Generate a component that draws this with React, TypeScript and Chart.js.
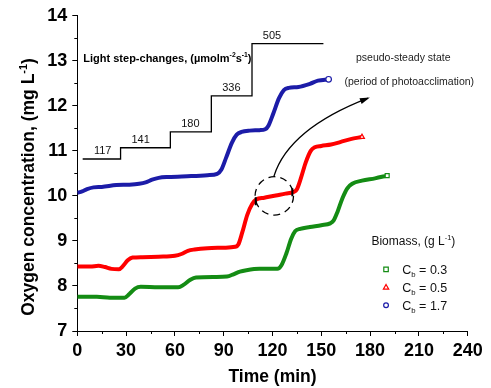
import React, { useEffect, useRef } from 'react';
import { Chart, registerables } from 'chart.js';

Chart.register(...registerables);

const FONT = '"Liberation Sans", Arial, Helvetica, sans-serif';

// ---- data (time in min, O2 in mg/L) ----
const blueTime = [0, 3, 6, 10, 15, 24, 32, 38, 42, 46, 50, 56, 70, 80, 86, 88.5, 91.5, 95, 98, 101, 106, 112, 115.5, 117.5, 120.5, 124, 127, 130, 136, 143, 148, 154.5];
const blueO2 = [10.07, 10.1, 10.15, 10.19, 10.2, 10.24, 10.25, 10.27, 10.3, 10.36, 10.4, 10.42, 10.44, 10.46, 10.49, 10.58, 10.85, 11.18, 11.36, 11.42, 11.45, 11.46, 11.48, 11.56, 11.83, 12.17, 12.35, 12.4, 12.42, 12.49, 12.56, 12.59];

const redTime = [0, 8, 13, 17, 21, 25.5, 28, 31, 34, 40, 50, 60, 64, 68, 72, 80, 90, 97, 99, 101.5, 104.5, 107.5, 110, 115, 122, 128, 133, 135, 137.5, 140.5, 143.5, 146, 150, 156, 162, 168, 175];
const redO2 = [8.43, 8.43, 8.45, 8.42, 8.38, 8.37, 8.44, 8.57, 8.63, 8.64, 8.65, 8.67, 8.71, 8.78, 8.81, 8.84, 8.85, 8.87, 8.92, 9.2, 9.58, 9.82, 9.92, 9.96, 10.01, 10.05, 10.09, 10.15, 10.4, 10.75, 11.0, 11.08, 11.11, 11.14, 11.2, 11.26, 11.31];

const greenTime = [0, 12, 20, 29, 32, 35.5, 39, 50, 62, 65.5, 69.5, 73, 85, 92, 96, 100, 104, 112, 123, 125.5, 128.5, 131.5, 134, 137, 143, 150, 155.5, 157.5, 160, 163, 166, 169, 175, 183, 190.5];
const greenO2 = [7.76, 7.76, 7.74, 7.74, 7.82, 7.94, 7.98, 7.97, 7.97, 8.03, 8.14, 8.19, 8.2, 8.21, 8.26, 8.32, 8.35, 8.38, 8.38, 8.46, 8.72, 9.05, 9.22, 9.27, 9.31, 9.35, 9.39, 9.45, 9.65, 9.95, 10.17, 10.27, 10.34, 10.39, 10.45];

const lightTime = [3.3, 26.6, 57.2, 82.4, 107.4, 151.3];
const lightLevel = [10.82, 11.07, 11.42, 12.22, 13.38, 13.38];
const lightLabels = ['117', '141', '180', '336', '505'];

const biomassLabels = ['0.3', '0.5', '1.7'];
const seriesColors = ['#148c14', '#ff0000', '#1c1ca8'];
const seriesMarkers = ['rect', 'triangle', 'circle'];

const xMin = 0, xMax = 240, xStep = 30;
const yMin = 7, yMax = 14, yStep = 1;

type Part = { t: string; sup?: boolean; sub?: boolean };

function drawRich(ctx: CanvasRenderingContext2D, parts: Part[], x: number, y: number, size: number, weight: string, align: 'left' | 'center' | 'right', color: string) {
  const fontFor = (p: Part) => `${weight} ${p.sup || p.sub ? size * 0.62 : size}px ${FONT}`;
  let w = 0;
  for (const p of parts) { ctx.font = fontFor(p); w += ctx.measureText(p.t).width; }
  let cx = align === 'center' ? x - w / 2 : align === 'right' ? x - w : x;
  ctx.textAlign = 'left';
  ctx.textBaseline = 'alphabetic';
  ctx.fillStyle = color;
  for (const p of parts) {
    ctx.font = fontFor(p);
    const dy = p.sup ? -size * 0.4 : p.sub ? size * 0.25 : 0;
    ctx.fillText(p.t, cx, y + dy);
    cx += ctx.measureText(p.t).width;
  }
}

function drawMarker(ctx: CanvasRenderingContext2D, style: string, x: number, y: number, r: number, color: string) {
  ctx.save();
  ctx.strokeStyle = color;
  ctx.fillStyle = '#fff';
  ctx.lineWidth = 1.2;
  ctx.beginPath();
  if (style === 'rect') {
    ctx.rect(x - r * 0.8, y - r * 0.8, r * 1.6, r * 1.6);
  } else if (style === 'triangle') {
    ctx.moveTo(x, y - r);
    ctx.lineTo(x + r * 0.95, y + r * 0.65);
    ctx.lineTo(x - r * 0.95, y + r * 0.65);
    ctx.closePath();
  } else {
    ctx.arc(x, y, r * 0.85, 0, Math.PI * 2);
  }
  ctx.fill();
  ctx.stroke();
  ctx.restore();
}

const overlayPlugin = {
  id: 'overlay',
  afterDraw(chart: any) {
    const ctx: CanvasRenderingContext2D = chart.ctx;
    const xs = chart.scales.x;
    const ys = chart.scales.y;
    const px = (t: number) => xs.getPixelForValue(t);
    const py = (v: number) => ys.getPixelForValue(v);
    const area = chart.chartArea;
    ctx.save();

    // minor ticks
    ctx.strokeStyle = '#000';
    ctx.lineWidth = 1;
    ctx.beginPath();
    for (let t = xMin + xStep / 2; t < xMax; t += xStep) {
      const x = Math.round(px(t)) + 0.5;
      ctx.moveTo(x, area.bottom);
      ctx.lineTo(x, area.bottom + 3);
    }
    for (let v = yMin + yStep / 2; v < yMax; v += yStep) {
      const y = Math.round(py(v)) + 0.5;
      ctx.moveTo(area.left, y);
      ctx.lineTo(area.left - 3, y);
    }
    ctx.stroke();

    // axis titles
    drawRich(ctx, [{ t: 'Time (min)' }], (area.left + area.right) / 2, 382, 17.5, 'bold', 'center', '#000');
    ctx.save();
    ctx.translate(27.5, 187);
    ctx.rotate(-Math.PI / 2);
    drawRich(ctx, [{ t: 'Oxygen concentration, (mg L' }, { t: '-1', sup: true }, { t: ')' }], 0, 6.5, 17.5, 'bold', 'center', '#000');
    ctx.restore();

    // light step labels
    for (let i = 0; i < lightLabels.length; i++) {
      drawRich(ctx, [{ t: lightLabels[i] }], px(lightTime[i]) + 20, py(lightLevel[i]) - 4.5, 11, 'normal', 'center', '#111');
    }
    drawRich(ctx, [{ t: 'Light step-changes, (µmolm' }, { t: '-2', sup: true }, { t: 's' }, { t: '-1', sup: true }, { t: ')' }], px(3.7), py(13.07) + 4, 11, 'bold', 'left', '#000');

    // pseudo-steady state text
    drawRich(ctx, [{ t: 'pseudo-steady state' }], px(200.4), py(13.09) + 3.8, 10.5, 'normal', 'center', '#222');
    drawRich(ctx, [{ t: '(period of photoacclimation)' }], px(204.1), py(12.55) + 3.8, 10.5, 'normal', 'center', '#222');

    // curved arrow
    const p0 = { x: px(120.9), y: py(10.44) };
    const c = { x: px(130.1), y: py(11.49) };
    const p2 = { x: px(178.7), y: py(12.17) };
    ctx.strokeStyle = '#000';
    ctx.lineWidth = 1.3;
    ctx.beginPath();
    ctx.moveTo(p0.x, p0.y);
    ctx.quadraticCurveTo(c.x, c.y, p2.x, p2.y);
    ctx.stroke();
    const ang = Math.atan2(p2.y - c.y, p2.x - c.x);
    const hl = 8, hw = 3;
    ctx.fillStyle = '#000';
    ctx.beginPath();
    ctx.moveTo(p2.x + Math.cos(ang) * 2, p2.y + Math.sin(ang) * 2);
    ctx.lineTo(p2.x - Math.cos(ang) * hl + Math.sin(ang) * hw, p2.y - Math.sin(ang) * hl - Math.cos(ang) * hw);
    ctx.lineTo(p2.x - Math.cos(ang) * hl - Math.sin(ang) * hw, p2.y - Math.sin(ang) * hl + Math.cos(ang) * hw);
    ctx.closePath();
    ctx.fill();

    // dashed circle
    const cc = { x: px(121.1), y: py(10.0) };
    ctx.setLineDash([7, 5]);
    ctx.lineWidth = 1.3;
    ctx.beginPath();
    ctx.arc(cc.x, cc.y, 19.2, 0, Math.PI * 2);
    ctx.stroke();
    ctx.setLineDash([]);
    ctx.lineWidth = 2;
    ctx.beginPath();
    ctx.moveTo(px(109.7), py(9.88) - 4);
    ctx.lineTo(px(109.7), py(9.88) + 4);
    ctx.moveTo(px(132.2), py(10.08) - 4);
    ctx.lineTo(px(132.2), py(10.08) + 4);
    ctx.stroke();

    // legend
    drawRich(ctx, [{ t: 'Biomass, (g L' }, { t: '-1', sup: true }, { t: ')' }], px(206.6), py(9.0) + 4.3, 12, 'normal', 'center', '#111');
    const legendY = [8.37, 7.97, 7.57];
    for (let i = 0; i < biomassLabels.length; i++) {
      const y = py(legendY[i]);
      drawMarker(ctx, seriesMarkers[i], px(189.8), y, 2.8, seriesColors[i]);
      drawRich(ctx, [{ t: 'C' }, { t: 'b', sub: true }, { t: ' = ' + biomassLabels[i] }], px(199.8), y + 4.5, 12.5, 'normal', 'left', '#111');
    }

    ctx.restore();
  },
};

function series(time: number[], vals: number[]) {
  return time.map((t, i) => ({ x: t, y: vals[i] }));
}

export default function App() {
  const ref = useRef<HTMLCanvasElement | null>(null);
  useEffect(() => {
    if (!ref.current) return;
    const mk = (i: number, time: number[], vals: number[]) => ({
      label: 'Cb = ' + biomassLabels[i],
      data: series(time, vals),
      borderColor: seriesColors[i],
      backgroundColor: '#fff',
      borderWidth: 4,
      cubicInterpolationMode: 'monotone' as const,
      pointStyle: seriesMarkers[i],
      pointRadius: (c: any) => (c.dataIndex === vals.length - 1 ? 2.8 : 0),
      pointBorderColor: seriesColors[i],
      pointBackgroundColor: '#fff',
      pointBorderWidth: 1.2,
      fill: false,
    });
    const chart = new Chart(ref.current, {
      type: 'line',
      data: {
        datasets: [
          {
            label: 'Light',
            data: series(lightTime, lightLevel),
            borderColor: '#000',
            borderWidth: 1.3,
            stepped: 'before',
            pointRadius: 0,
            fill: false,
          },
          mk(0, greenTime, greenO2),
          mk(1, redTime, redO2),
          mk(2, blueTime, blueO2),
        ],
      },
      options: {
        animation: false,
        responsive: false,
        maintainAspectRatio: false,
        layout: { padding: { top: 15.7, right: 23.3, left: 0, bottom: 0 } },
        plugins: { legend: { display: false }, tooltip: { enabled: false }, title: { display: false } },
        scales: {
          x: {
            type: 'linear',
            min: xMin,
            max: xMax,
            afterFit: (s: any) => { s.height = 57; },
            ticks: { stepSize: xStep, color: '#000', font: { family: FONT, size: 18, weight: 'bold' }, padding: 4, maxRotation: 0, autoSkip: false },
            grid: { display: true, drawOnChartArea: false, drawTicks: true, tickLength: 5, color: '#000', tickWidth: 1 },
            border: { display: true, color: '#000', width: 1 },
          },
          y: {
            type: 'linear',
            min: yMin,
            max: yMax,
            afterFit: (s: any) => { s.width = 77.3; },
            ticks: { stepSize: yStep, color: '#000', font: { family: FONT, size: 18, weight: 'bold' }, padding: 5 },
            grid: { display: true, drawOnChartArea: false, drawTicks: true, tickLength: 5, color: '#000', tickWidth: 1 },
            border: { display: true, color: '#000', width: 1 },
          },
        },
      },
      plugins: [overlayPlugin],
    } as any);
    return () => chart.destroy();
  }, []);
  return (
    <div style={{ position: 'absolute', left: 0, top: 0, width: 491, height: 388, background: '#fff' }}>
      <canvas ref={ref} width={491} height={388} style={{ display: 'block', width: 491, height: 388 }} />
    </div>
  );
}
